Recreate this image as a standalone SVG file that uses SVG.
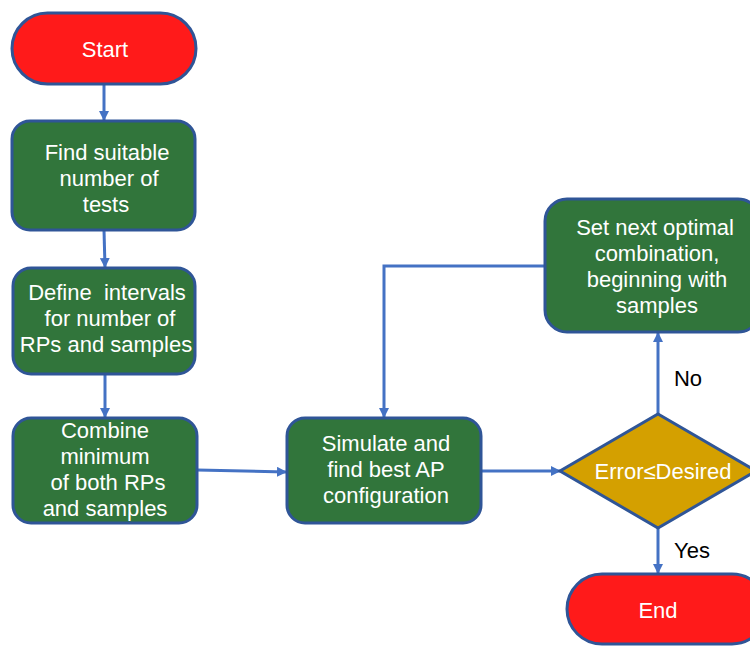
<svg xmlns="http://www.w3.org/2000/svg" width="750" height="646" viewBox="0 0 750 646">
<defs>
<marker id="ah" markerWidth="10" markerHeight="10" refX="9" refY="5" orient="auto" markerUnits="userSpaceOnUse">
<path d="M0,0 L10,5 L0,10 z" fill="#4472C4"/>
</marker>
<style>
.term{fill:#FF1A1A;stroke:#2F5597;stroke-width:3}
.proc{fill:#31753B;stroke:#2F5597;stroke-width:3}
.dec{fill:#D4A000;stroke:#2F5597;stroke-width:3}
.t{font-family:"Liberation Sans",Arial,sans-serif;font-size:22px;fill:#fff;text-anchor:middle;white-space:pre}
.l{font-family:"Liberation Sans",Arial,sans-serif;font-size:22px;fill:#000;text-anchor:middle}
.c{fill:none;stroke:#4472C4;stroke-width:3;marker-end:url(#ah)}
</style>
</defs>
<rect width="750" height="646" fill="#fff"/>
<g id="connectors">
<line class="c" x1="104" y1="84" x2="104" y2="120"/>
<line class="c" x1="104" y1="230" x2="105" y2="267"/>
<line class="c" x1="105" y1="374" x2="105" y2="417"/>
<line class="c" x1="197" y1="470" x2="286" y2="472"/>
<line class="c" x1="481" y1="471" x2="560" y2="471"/>
<line class="c" x1="658" y1="414" x2="658" y2="333"/>
<line class="c" x1="658" y1="528" x2="658" y2="573"/>
<polyline class="c" points="545,266 384,266 384,417"/>
</g>
<g id="start">
<rect class="term" x="12" y="13" width="184" height="71" rx="35.5"/>
<text class="t" x="105" y="57">Start</text>
</g>
<g id="find">
<rect class="proc" x="12" y="121" width="183" height="109" rx="18"/>
<text class="t" x="107" y="160">Find suitable</text>
<text class="t" x="109" y="186">number of</text>
<text class="t" x="106" y="212">tests</text>
</g>
<g id="define">
<rect class="proc" x="13" y="268" width="182" height="106" rx="18"/>
<text class="t" x="107" y="300" xml:space="preserve">Define  intervals</text>
<text class="t" x="110" y="326">for number of</text>
<text class="t" x="106" y="352">RPs and samples</text>
</g>
<g id="combine">
<rect class="proc" x="13" y="418" width="184" height="105" rx="18"/>
<text class="t" x="105" y="438">Combine</text>
<text class="t" x="105" y="464">minimum</text>
<text class="t" x="108" y="490">of both RPs</text>
<text class="t" x="105" y="516">and samples</text>
</g>
<g id="simulate">
<rect class="proc" x="287" y="418" width="194" height="105" rx="18"/>
<text class="t" x="386" y="451">Simulate and</text>
<text class="t" x="386" y="477">find best AP</text>
<text class="t" x="386" y="503">configuration</text>
</g>
<g id="decision">
<polygon class="dec" points="658,414 756,471 658,528 560,471"/>
<text class="t" x="663" y="479">Error≤Desired</text>
</g>
<g id="setnext">
<rect class="proc" x="545" y="199" width="215" height="133" rx="22"/>
<text class="t" x="655" y="235">Set next optimal</text>
<text class="t" x="657" y="261">combination,</text>
<text class="t" x="657" y="287">beginning with</text>
<text class="t" x="657" y="313">samples</text>
</g>
<g id="end">
<rect class="term" x="567" y="574" width="200" height="70" rx="35"/>
<text class="t" x="658" y="618">End</text>
</g>
<g id="labels">
<text class="l" x="688" y="386">No</text>
<text class="l" x="692" y="558">Yes</text>
</g>
</svg>
